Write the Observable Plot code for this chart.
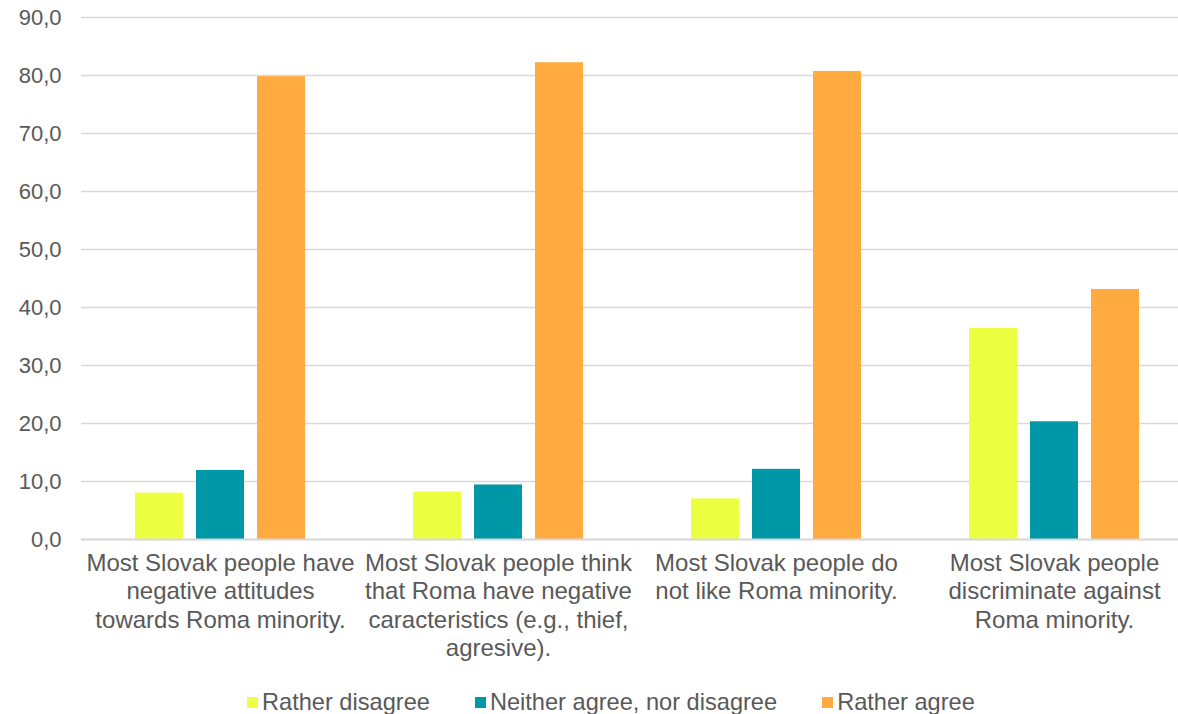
<!DOCTYPE html>
<html>
<head>
<meta charset="utf-8">
<script src="https://cdn.jsdelivr.net/npm/d3@7"></script>
<script src="https://cdn.jsdelivr.net/npm/@observablehq/plot@0.6"></script>
<style>
  html, body { margin: 0; padding: 0; background: #fff; overflow: hidden; width: 1178px; height: 714px; }
  body { font-family: "Liberation Sans", Arial, sans-serif; color: #595959; }
  #chart svg { display: block; overflow: hidden; }
  .legend { display: flex; align-items: center; margin-left: 247px; gap: 45px; height: 34px; margin-top: 5px; font-size: 23.6px; color: #595959; }
  .legend .item { display: flex; align-items: center; gap: 4px; white-space: nowrap; }
  .legend .sw { width: 11px; height: 11px; display: inline-block; }
</style>
</head>
<body>
<div id="chart"></div>
<div class="legend" id="legend"></div>
<script>
const categories = [
  "Most Slovak people have\nnegative attitudes\ntowards Roma minority.",
  "Most Slovak people think\nthat Roma have negative\ncaracteristics (e.g., thief,\nagresive).",
  "Most Slovak people do\nnot like Roma minority.",
  "Most Slovak people\ndiscriminate against\nRoma minority."
];
const seriesNames = ["Rather disagree", "Neither agree, nor disagree", "Rather agree"];
const seriesColors = ["#ECFF40", "#0097A7", "#FFAB40"];
const ratherDisagree = [8.0, 8.2, 7.0, 36.4];
const neitherAgree = [11.9, 9.4, 12.1, 20.3];
const ratherAgree = [79.8, 82.2, 80.7, 43.1];
const yTicks = [0, 10, 20, 30, 40, 50, 60, 70, 80, 90];

const seriesValues = [ratherDisagree, neitherAgree, ratherAgree];
const table = [];
categories.forEach((c, i) => {
  seriesNames.forEach((s, j) => {
    table.push({category: c, series: s, value: seriesValues[j][i]});
  });
});

const fmt = d => d.toFixed(1).replace(".", ",");

const chart = Plot.plot({
  width: 1178,
  height: 680,
  marginTop: 17,
  marginBottom: 141,
  marginLeft: 80,
  marginRight: -15,
  style: {fontFamily: "'Liberation Sans', Arial, sans-serif", color: "#595959", background: "#fff", overflow: "hidden"},
  fx: {domain: categories, padding: 0, label: null},
  x: {domain: seriesNames, paddingInner: 0.218, paddingOuter: 0.854, axis: null},
  y: {domain: [0, 90], label: null},
  color: {domain: seriesNames, range: seriesColors},
  marks: [
    Plot.ruleY(yTicks, {stroke: "#d9d9d9", strokeWidth: 1.5}),
    Plot.barY(table, {fx: "category", x: "series", y: "value", fill: "series"}),
    Plot.ruleY([0], {stroke: "#d9d9d9", strokeWidth: 2}),
    Plot.axisY({ticks: yTicks, tickFormat: fmt, tickSize: 0, tickPadding: 20, fontSize: 22, fill: "#595959", label: null}),
    Plot.axisFx({anchor: "bottom", tickSize: 0, tickPadding: 11, fontSize: 24, lineHeight: 1.19, fill: "#595959", label: null})
  ]
});
document.getElementById("chart").appendChild(chart);

const legend = document.getElementById("legend");
seriesNames.forEach((s, j) => {
  const item = document.createElement("div");
  item.className = "item";
  const sw = document.createElement("span");
  sw.className = "sw";
  sw.style.background = seriesColors[j];
  const t = document.createElement("span");
  t.textContent = s;
  item.appendChild(sw);
  item.appendChild(t);
  legend.appendChild(item);
});
</script>
</body>
</html>
